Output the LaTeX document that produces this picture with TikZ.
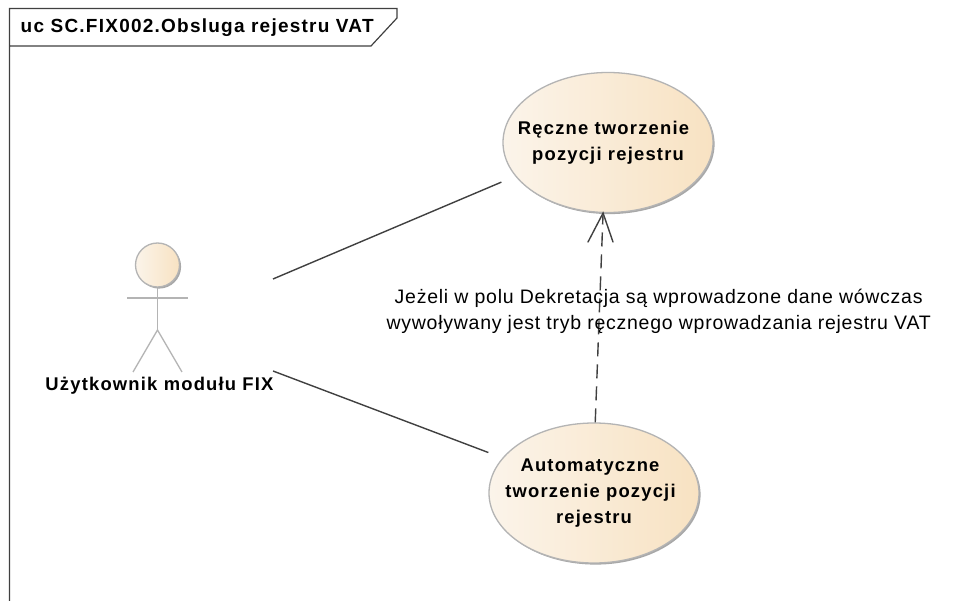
\documentclass[tikz,border=0pt]{standalone}
\usepackage{fontspec}
\setmainfont{Liberation Sans}[BoldFeatures={LetterSpace=6.5}]
\newfontfamily\notefont{Liberation Sans}[LetterSpace=3.8]
\usetikzlibrary{shapes.geometric,shadows,arrows.meta}
\definecolor{fillL}{HTML}{FBF4EA}
\definecolor{fillR}{HTML}{F8E2C2}
\definecolor{edge}{HTML}{B4B4B4}
\definecolor{shade}{HTML}{A8A8A8}
\definecolor{conn}{HTML}{404040}
\tikzset{
  softshade/.style={general shadow={fill=shade,shadow xshift=1.6pt,shadow yshift=-1.6pt}},
  ucase/.style={shape=ellipse,draw=edge,line width=1.3pt,left color=fillL,right color=fillR,shading angle=90,
    softshade,minimum width=210pt,minimum height=140pt,inner xsep=-30pt,inner ysep=-10pt,align=center,
    font=\fontsize{18.4}{26}\selectfont\bfseries,text=black},
  headshape/.style={shape=circle,draw=edge,line width=1.3pt,left color=fillL,right color=fillR,softshade,minimum size=44pt,inner sep=0pt},
  limb/.style={draw=edge,line width=1.3pt},
  assoc/.style={draw=conn,line width=1.4pt,shorten >=15pt},
  frameline/.style={draw=conn,line width=1.2pt},
  depend/.style={draw=conn,line width=1.4pt,dash pattern=on 14pt off 8pt},
  wing/.style={draw=conn,line width=1.4pt,line cap=round},
}
\begin{document}
\begin{tikzpicture}[x=1pt,y=-1pt]
\useasboundingbox[fill=white] (0,0) rectangle (954,601);
% frame
\draw[frameline] (9.5,601) -- (9.5,8.5) -- (397,8.5) -- (397,18) -- (371,46) -- (9.5,46);
\node[anchor=west,inner sep=0pt,font=\fontsize{19}{20}\selectfont\bfseries] (title) at (20.5,28) {uc SC.FIX002.Obsluga rejestru VAT};
% use cases
\node[ucase] (manual) at (608,142.5) {Ręczne tworzenie\kern9pt\\pozycji rejestru};
\node[ucase] (auto) at (594,493) {Automatyczne\kern8pt\\tworzenie pozycji\kern7pt\\rejestru};
% actor
\node[headshape] (head) at (157.5,265) {};
\coordinate (armL) at (127,298);
\coordinate (armR) at (188,298);
\coordinate (hip) at (157.5,330);
\coordinate (footL) at (133,372);
\coordinate (footR) at (182,372);
\draw[limb] (head.south) -- (hip);
\draw[limb] (armL) -- (armR);
\draw[limb] (footL) -- (hip) -- (footR);
\node[inner sep=0pt,font=\fontsize{18.4}{20}\selectfont\bfseries] (actor) at (159.5,386) {Użytkownik modułu FIX};
% connectors
\coordinate (endA) at (273,279);
\coordinate (endB) at (273,371);
\draw[assoc] (endA) -- (manual.200.6);
\draw[assoc] (endB) -- (auto.159.3);
\coordinate (wingL) at (588,242);
\coordinate (wingR) at (613,242);
\draw[depend] (auto.89) -- (manual.266);
\draw[wing] (wingL) -- (manual.266) -- (wingR);
% note
\node[inner sep=0pt,align=center,font=\fontsize{19.5}{26}\selectfont\notefont] (note) at (658.7,311) {Jeżeli w polu Dekretacja są wprowadzone dane wówczas\\wywoływany jest tryb ręcznego wprowadzania rejestru VAT};
\end{tikzpicture}
\end{document}
